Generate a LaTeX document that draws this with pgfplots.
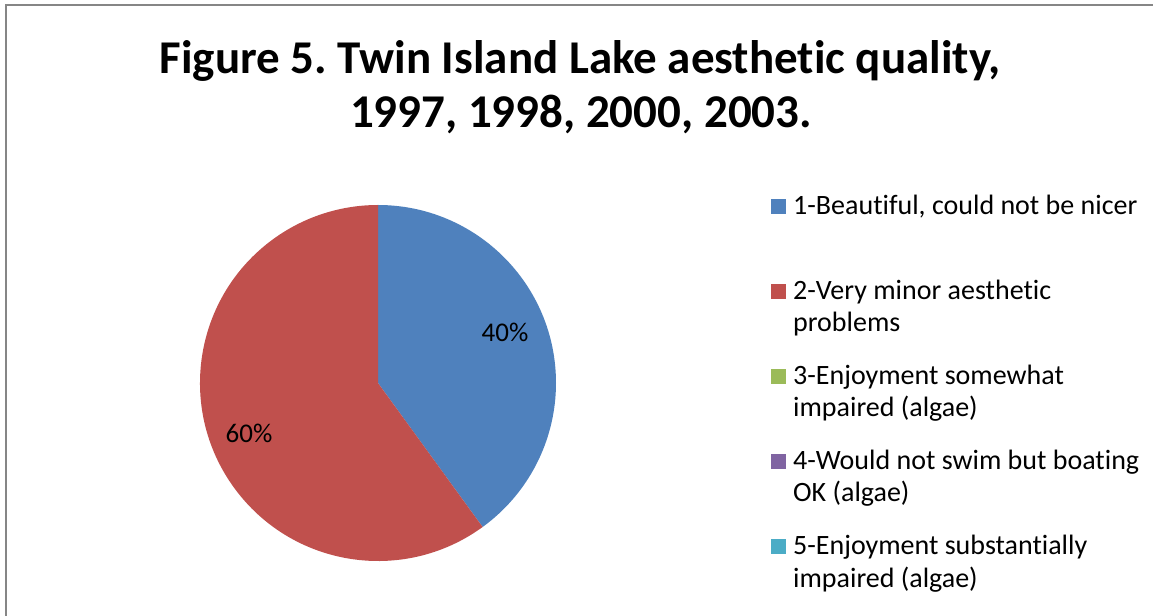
\documentclass[border=0pt]{standalone}
\usepackage{pgfplots}
\usepackage{pgfplotstable}
\pgfplotsset{compat=1.18}
\usepackage{fontspec}
\setmainfont{Carlito}[RawFeature=-liga]
\frenchspacing
\definecolor{c1}{HTML}{4F81BD}
\definecolor{c2}{HTML}{C0504D}
\definecolor{c3}{HTML}{9BBB59}
\definecolor{c4}{HTML}{8064A2}
\definecolor{c5}{HTML}{4BACC6}
\definecolor{frame}{HTML}{868686}
\pgfplotstableread{
cat value
1 40
2 60
3 0
4 0
5 0
}\piedata
\begin{document}
\begin{tikzpicture}
\begin{axis}[
  at={(0,0)}, anchor=south west,
  width=1153bp, height=616bp, scale only axis,
  xmin=0, xmax=1153, ymin=0, ymax=616,
  hide axis, clip=false]
\pgfplotstablegetelem{0}{value}\of\piedata \let\va\pgfplotsretval
\pgfplotstablegetelem{1}{value}\of\piedata \let\vb\pgfplotsretval
\pgfmathsetmacro{\aend}{90-3.6*\va}
\pgfmathsetmacro{\bend}{\aend-3.6*\vb}
% frame
\draw[frame, line width=2bp] (axis cs:6,0) -- (axis cs:6,611) -- (axis cs:1153,611);
% pie
\fill[c1] (axis cs:378,233) -- ++(90:178bp) arc[start angle=90, end angle=\aend, radius=178bp] -- cycle;
\fill[c2] (axis cs:378,233) -- ++(\aend:178bp) arc[start angle=\aend, end angle=\bend, radius=178bp] -- cycle;
\node[anchor=base, inner sep=0] at (axis cs:505,{616-342}) {\fontsize{27bp}{32bp}\selectfont \va\%};
\node[anchor=base, inner sep=0] at (axis cs:249,{616-443}) {\fontsize{27bp}{32bp}\selectfont \vb\%};
% title
\node[anchor=base, inner sep=0] at (axis cs:580,{616-74}) {\fontsize{47bp}{56bp}\selectfont\bfseries Figure 5. Twin Island Lake aesthetic quality,};
\node[anchor=base, inner sep=0] at (axis cs:581,{616-128}) {\fontsize{47bp}{56bp}\selectfont\bfseries 1997, 1998, 2000, 2003.};
% legend
\fill[c1] (axis cs:771,{616-199}) rectangle (axis cs:786,{616-214});
\fill[c2] (axis cs:771,{616-284}) rectangle (axis cs:786,{616-299});
\fill[c3] (axis cs:771,{616-369}) rectangle (axis cs:786,{616-384});
\fill[c4] (axis cs:771,{616-454}) rectangle (axis cs:786,{616-469});
\fill[c5] (axis cs:771,{616-539}) rectangle (axis cs:786,{616-554});
\tikzset{lg/.style={anchor=base west, inner sep=0, font=\fontsize{28bp}{33bp}\selectfont}}
\node[lg] at (axis cs:793,{616-215}) {1-Beautiful, could not be nicer};
\node[lg] at (axis cs:793,{616-300}) {2-Very minor aesthetic};
\node[lg] at (axis cs:793,{616-332}) {problems};
\node[lg] at (axis cs:793,{616-385}) {3-Enjoyment somewhat};
\node[lg] at (axis cs:793,{616-417}) {impaired (algae)};
\node[lg] at (axis cs:793,{616-470}) {4-Would not swim but boating};
\node[lg] at (axis cs:793,{616-502}) {OK (algae)};
\node[lg] at (axis cs:793,{616-555}) {5-Enjoyment substantially};
\node[lg] at (axis cs:793,{616-587}) {impaired (algae)};
\end{axis}
\pgfresetboundingbox
\path (0,0) rectangle (1153bp,616bp);
\end{tikzpicture}
\end{document}
